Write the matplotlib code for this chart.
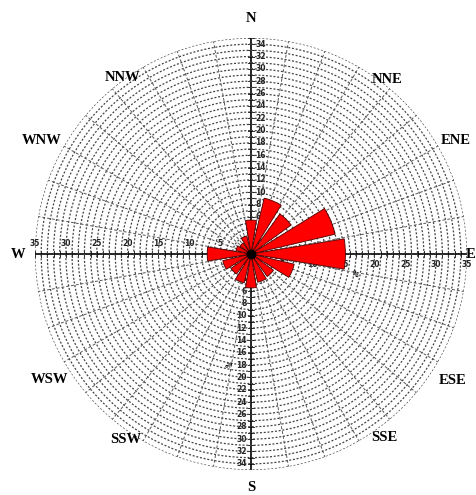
import numpy as np
import matplotlib
matplotlib.use("Agg")
import matplotlib.pyplot as plt

# Wind direction sectors and their frequencies (%)
directions = ["N", "NNE", "NE", "ENE", "E", "ESE", "SE", "SSE",
              "S", "SSW", "SW", "WSW", "W", "WNW", "NW", "NNW"]
frequency = [5.5, 9.3, 8.0, 14.0, 15.3, 7.2, 4.5, 4.7,
             5.5, 4.8, 4.0, 4.7, 7.1, 2.5, 2.2, 3.0]

# Compass labels around the rose: (text, bearing in degrees, radius)
compass_labels = ["N", "NNE", "ENE", "E", "ESE", "SSE", "S", "SSW", "WSW", "W", "WNW", "NNW"]
compass_bearing = [0, 38, 61, 90, 122, 144, 180, 214, 238, 270, 298.5, 324]
compass_radius = [38.2, 35.8, 37.9, 35.6, 38.6, 36.8, 37.8, 36.2, 38.4, 37.7, 38.6, 35.3]

# Axis scale labels
ns_ticks = list(range(2, 35, 2))
ew_ticks = list(range(5, 36, 5))
r_max = 35

fig = plt.figure(figsize=(4.77, 4.95), dpi=100)
rect = [35 / 477, 25 / 495, 432 / 477, 432 / 495]

# Cartesian layer: cross-hair axes with ticks and scale labels
axc = fig.add_axes(rect, zorder=0)
axc.set_xlim(-r_max, r_max)
axc.set_ylim(-r_max, r_max)
axc.axis("off")
axc.plot([-r_max, r_max], [0, 0], color="black", lw=1.2)
axc.plot([0, 0], [-r_max, r_max], color="black", lw=1.2)
for k in range(1, r_max + 1):
    t = 0.55
    axc.plot([k, k], [-t, t], color="black", lw=0.6)
    axc.plot([-k, -k], [-t, t], color="black", lw=0.6)
    axc.plot([-t, t], [k, k], color="black", lw=0.6)
    axc.plot([-t, t], [-k, -k], color="black", lw=0.6)

tick_font = dict(fontsize=5.5, fontweight="bold", family="DejaVu Sans", color="#222222")
for v in ns_ticks:
    axc.text(0.7, v, str(v), ha="left", va="center", **tick_font)
    axc.text(-0.7, -v, str(v), ha="right", va="center", **tick_font)
for v in ew_ticks:
    axc.text(v, -1.0, str(v), ha="center", va="top", **tick_font)
    axc.text(-v, 1.0, str(v), ha="center", va="bottom", **tick_font)

# Polar layer: dashed grid and the frequency wedges
ax = fig.add_axes(rect, projection="polar", zorder=1)
ax.patch.set_alpha(0)
ax.set_theta_zero_location("N")
ax.set_theta_direction(-1)
ax.set_ylim(0, r_max)
ax.grid(False)
ax.set_xticks([])
ax.set_yticks([])
ax.spines["polar"].set_visible(False)

theta_full = np.linspace(0, 2 * np.pi, 721)
for r in range(1, r_max + 1):
    ax.plot(theta_full, np.full_like(theta_full, r), color="#444444",
            lw=0.9, ls=(0, (1.6, 1.4)), zorder=1)
for deg in range(0, 360, 10):
    if deg % 90 == 0:
        continue
    th = np.deg2rad(deg)
    ax.plot([th, th], [0, r_max], color="#555555", lw=0.7,
            ls=(0, (3, 2)), zorder=1)

angles = np.deg2rad(np.arange(len(directions)) * 22.5)
ax.bar(angles, frequency, width=np.deg2rad(18.5), bottom=0,
       color="#ff0000", edgecolor="#4a0000", linewidth=0.6, zorder=3)
ax.scatter([0], [0], s=36, color="black", zorder=4)

for lab, b, r in zip(compass_labels, compass_bearing, compass_radius):
    ax.text(np.deg2rad(b), r, lab, ha="center", va="center",
            fontsize=10.5, fontweight="bold", family="Liberation Serif",
            clip_on=False, zorder=5)

# Unit marks along two of the radial lines
ax.text(np.deg2rad(101), 17.2, "%", fontsize=5, fontweight="bold",
        rotation=-30, ha="center", va="center", zorder=2)
ax.text(np.deg2rad(191), 18.3, "%", fontsize=5, fontweight="bold",
        rotation=60, ha="center", va="center", zorder=2)

fig.savefig("out.png", dpi=100)
